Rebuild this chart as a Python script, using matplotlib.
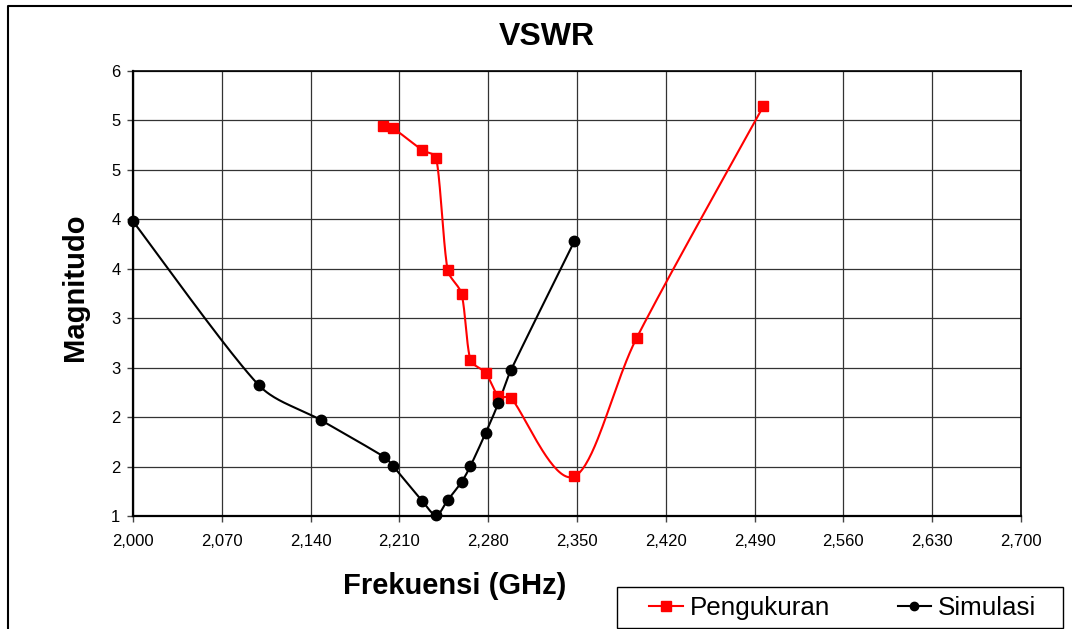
import numpy as np
import matplotlib
matplotlib.use('Agg')
import matplotlib.pyplot as plt
from matplotlib.lines import Line2D
from matplotlib.patches import Rectangle
from matplotlib.ticker import FixedLocator, FuncFormatter

plt.rcParams['font.family'] = ['Liberation Sans', 'DejaVu Sans']

# frequency in GHz, VSWR magnitude
freq_ukur = [2.197, 2.205, 2.228, 2.239, 2.248, 2.259, 2.266, 2.278, 2.288, 2.298, 2.348, 2.397, 2.497]
vswr_ukur = [4.94, 4.92, 4.70, 4.62, 3.49, 3.245, 2.58, 2.446, 2.213, 2.193, 1.40, 2.80, 5.146]

freq_sim = [2.000, 2.099, 2.148, 2.198, 2.205, 2.228, 2.239, 2.248, 2.259, 2.266, 2.278, 2.288, 2.298, 2.348]
vswr_sim = [3.98, 2.325, 1.97, 1.597, 1.506, 1.152, 1.01, 1.16, 1.344, 1.506, 1.84, 2.14, 2.476, 3.78]

x_ticks = [2.000, 2.070, 2.140, 2.210, 2.280, 2.350, 2.420, 2.490, 2.560, 2.630, 2.700]
y_ticks = [1.0, 1.5, 2.0, 2.5, 3.0, 3.5, 4.0, 4.5, 5.0, 5.5]

W, H = 1072, 629
x0, x1, y0, y1 = 2.0, 2.7, 1.0, 5.5
pw, ph = 1021 - 133, 516 - 71


def smooth(xs, ys, n=40):
    # excel-like smoothed line: catmull-rom bezier, handles capped to 1/3 of the segment
    p = np.column_stack([(np.array(xs) - x0) / (x1 - x0) * pw,
                         (np.array(ys) - y0) / (y1 - y0) * ph])
    m = len(p)
    tang = np.zeros_like(p)
    for i in range(m):
        tang[i] = (p[min(i + 1, m - 1)] - p[max(i - 1, 0)]) / 6
    t = np.linspace(0, 1, n)[:, None]
    out = []
    for i in range(m - 1):
        p1, p2 = p[i], p[i + 1]
        L = np.hypot(*(p2 - p1))
        h1, h2 = tang[i], tang[i + 1]
        if np.hypot(*h1) > L / 3:
            h1 = h1 / np.hypot(*h1) * L / 3
        if np.hypot(*h2) > L / 3:
            h2 = h2 / np.hypot(*h2) * L / 3
        c1 = p1 + h1
        c2 = p2 - h2
        seg = (1 - t) ** 3 * p1 + 3 * (1 - t) ** 2 * t * c1 + 3 * (1 - t) * t ** 2 * c2 + t ** 3 * p2
        out.append(seg)
    out = np.vstack(out)
    return out[:, 0] / pw * (x1 - x0) + x0, out[:, 1] / ph * (y1 - y0) + y0


fig = plt.figure(figsize=(W / 100, H / 100), dpi=100)
ax = fig.add_axes([133 / W, 1 - 516 / H, pw / W, ph / H])

sx, sy = smooth(freq_ukur, vswr_ukur)
ax.plot(sx, sy, color='red', lw=1.5, zorder=3, clip_on=False)
ax.plot(freq_ukur, vswr_ukur, ls='none', marker='s', ms=7.5, color='red', zorder=4, clip_on=False)

sx, sy = smooth(freq_sim, vswr_sim)
ax.plot(sx, sy, color='black', lw=1.5, zorder=3, clip_on=False)
ax.plot(freq_sim, vswr_sim, ls='none', marker='o', ms=7.5, color='black', zorder=4, clip_on=False)

ax.set_xlim(x0, x1)
ax.set_ylim(y0, y1)
ax.xaxis.set_major_locator(FixedLocator(x_ticks))
ax.yaxis.set_major_locator(FixedLocator(y_ticks))
ax.xaxis.set_major_formatter(FuncFormatter(lambda v, p: ('%.3f' % v).replace('.', ',')))
ax.yaxis.set_major_formatter(FuncFormatter(lambda v, p: '%d' % int(np.floor(v + 0.5))))
ax.tick_params(axis='both', labelsize=12, direction='out', length=4, width=1, color='#444444')
ax.tick_params(axis='x', pad=9)
ax.tick_params(axis='y', pad=5)
ax.grid(True, color='#333333', lw=0.9)
ax.set_axisbelow(True)
for s in ['top', 'right']:
    ax.spines[s].set_color('black')
    ax.spines[s].set_linewidth(1.2)
for s in ['left', 'bottom']:
    ax.spines[s].set_color('black')
    ax.spines[s].set_linewidth(1.6)

fig.text(547 / W, 1 - 37 / H, 'VSWR', fontsize=23, fontweight='bold', ha='center', va='center')
fig.text(455 / W, 1 - 586 / H, 'Frekuensi (GHz)', fontsize=21, fontweight='bold', ha='center', va='center')
fig.text(75 / W, 1 - 287 / H, 'Magnitudo', fontsize=21, fontweight='bold', ha='center', va='center',
         rotation=90)

# outer chart border
fig.add_artist(Line2D([8 / W, 8 / W, 1.0], [0.0, 1 - 6 / H, 1 - 6 / H], color='black', lw=1.5))

# legend box
fig.add_artist(Rectangle((617 / W, 1 / H), (1063 - 617) / W, 41 / H, transform=fig.transFigure,
                         facecolor='white', edgecolor='black', lw=1.0, zorder=5))
handles = [Line2D([], [], color='red', marker='s', ms=6.5, lw=1.5),
           Line2D([], [], color='black', marker='o', ms=6, lw=1.5)]
leg = fig.legend(handles, ['Pengukuran', 'Simulasi'], ncol=2, fontsize=18.7,
                 bbox_to_anchor=(843 / W, 1 - 608 / H), loc='center', frameon=False,
                 handlelength=1.28, handletextpad=0.28, borderpad=0, columnspacing=2.6)
leg.set_zorder(6)

fig.savefig('out.png', dpi=100)
